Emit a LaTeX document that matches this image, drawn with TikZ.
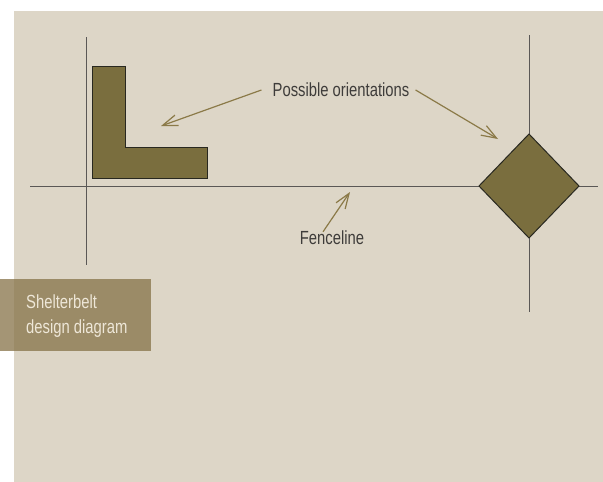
\documentclass[tikz,border=0pt]{standalone}
\usepackage{fontspec}
\newfontfamily\cond{Liberation Sans}[FakeStretch=0.78]
\usetikzlibrary{arrows.meta}
\definecolor{panel}{RGB}{221,214,199}
\definecolor{gridline}{RGB}{90,88,86}
\definecolor{olive}{RGB}{122,110,62}
\definecolor{edge}{RGB}{40,40,32}
\definecolor{pointer}{RGB}{139,122,72}
\definecolor{labeltxt}{RGB}{62,60,58}
\definecolor{tag}{RGB}{134,114,71}
\definecolor{tagtxt}{RGB}{238,231,216}
\tikzset{
  axis/.style={draw=gridline, line width=1pt},
  plot/.style={fill=olive, draw=edge, line width=1pt, line join=miter},
  pointerline/.style={draw=pointer, line width=1.2pt,
    -{Straight Barb[length=15pt,width=11pt,line width=1.2pt]}},
  caption/.style={font=\cond\fontsize{19}{22}\selectfont, text=labeltxt, inner sep=2pt},
}
\begin{document}
\begin{tikzpicture}[x=1pt,y=-1pt]
\useasboundingbox (0,0) rectangle (603,482);
% background panel
\fill[panel] (14,11) rectangle (603,482);

% fenceline and the two cross lines
\draw[axis] (30,186) -- (598,186);
\draw[axis] (86,37) -- (86,265);
\draw[axis] (529,35) -- (529,312);

% L-shaped belt
\draw[plot] (92,66) -- (125,66) -- (125,147) -- (207,147) -- (207,178) -- (92,178) -- cycle;

% diamond belt
\draw[plot] (529,134) -- (579,186) -- (529,238) -- (479,186) -- cycle;

% labels
\node[caption] (orient) at (341,90) {Possible orientations};
\node[caption] (fence) at (332,238) {Fenceline};

\coordinate (ltip) at (161,126);
\coordinate (dtip) at (498,139);
\coordinate (ftip) at (350,192);

\draw[pointerline] ([xshift=-9pt]orient.west) -- (ltip);
\draw[pointerline] ([xshift=4pt]orient.east) -- (dtip);
\draw[pointerline] ([xshift=-9pt,yshift=-3pt]fence.north) -- (ftip);

% tag box
\fill[tag, fill opacity=0.75] (0,279) rectangle (151,351);
\node[font=\cond\fontsize{19}{25}\selectfont, text=tagtxt, anchor=north west,
      align=left, inner sep=0pt] (tag) at (26,295) {Shelterbelt\\design diagram};
\end{tikzpicture}
\end{document}
